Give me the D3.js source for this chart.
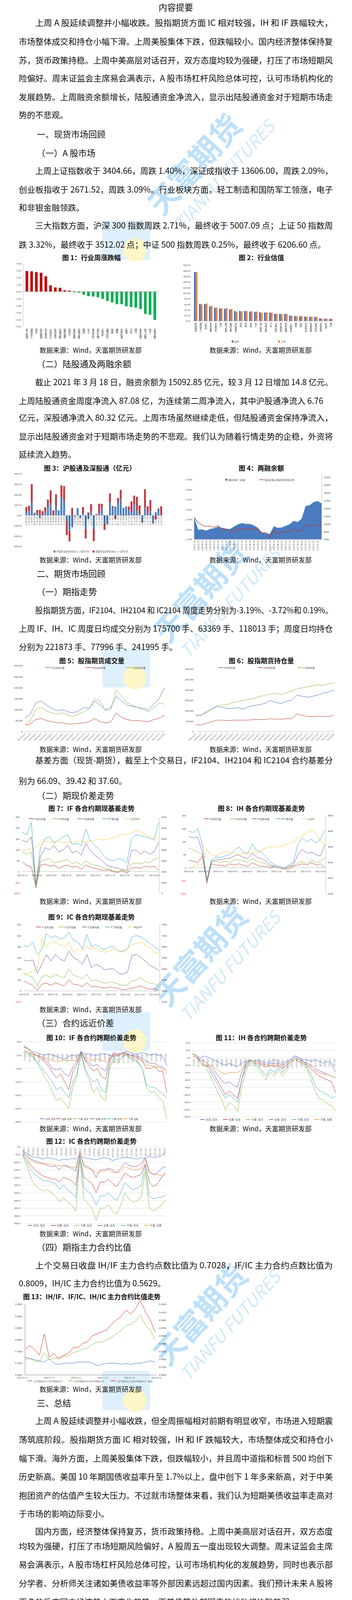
<!DOCTYPE html>
<html><head><meta charset="utf-8">
<script src="https://cdn.jsdelivr.net/npm/d3@7"></script>
<style>
html,body{margin:0;padding:0;background:#fff;width:901px;height:4950px;overflow:hidden;}
svg{display:block;font-family:"Noto Sans CJK SC","Noto Sans",sans-serif;}
</style></head>
<body>
<svg id="page" width="901" height="4950"></svg>
<script>
// ---------- data ----------
var c1Names = ['轻工制造','国防军工','综合','纺织服装','商业贸易','公用事业','休闲服务','交通运输','建筑装饰','房地产','家用电器','机械设备','钢铁','化工','食品饮料','医药生物','计算机','建筑材料','传媒','通信','农林牧渔','采掘','汽车','银行','有色金属','电气设备','电子','非银金融'];
var c1Vals = [2.95,2.9,2.8,2.7,2.2,0.9,0.6,0.55,0.2,0.15,-0.1,-0.15,-0.45,-0.65,-0.7,-0.8,-1.05,-1.35,-1.55,-1.8,-1.8,-2.1,-2.2,-2.3,-2.5,-3.2,-3.3,-4.05];

var c2Names = ['休闲服务','国防军工','计算机','有色金属','食品饮料','电子','电气设备','医药生物','纺织服装','综合','传媒','通信','化工','轻工制造','机械设备','汽车','交通运输','商业贸易','家用电器','公用事业','钢铁','采掘','农林牧渔','非银金融','建筑材料','建筑装饰','房地产','银行'];
var c2This = [176,62,61,53,48,45,44,42,36,36,36,34,33,32,31,30,26,26,26,20,18,17,16,15,15,10,8.5,8];
var c2Last = [175,60,63,55,48,46,46,43,34,35,36,35,34,30,31,31,26,25,26,19,18,18,16,16,15,9,8.5,8];

var c3Dates = ['2020-04-03','2020-04-10','2020-04-17','2020-04-24','2020-05-01','2020-05-08','2020-05-15','2020-05-22','2020-05-29','2020-06-05','2020-06-12','2020-06-19','2020-06-26','2020-07-03','2020-07-10','2020-07-17','2020-07-24','2020-07-31','2020-08-07','2020-08-14','2020-08-21','2020-08-28','2020-09-04','2020-09-11','2020-09-18','2020-09-25','2020-10-09','2020-10-16','2020-10-23','2020-10-30','2020-11-06','2020-11-13','2020-11-20','2020-11-27','2020-12-04','2020-12-11','2020-12-18','2020-12-25','2021-01-01','2021-01-08','2021-01-15','2021-01-22','2021-01-29','2021-02-05','2021-02-12','2021-02-19','2021-02-26','2021-03-05','2021-03-12','2021-03-19','2021-03-19'];
var c3Sh = [35,42,125,20,20,-25,0,28,80,118,0,90,48,177,135,-50,-155,-115,-12,70,-25,18,-135,-35,35,-130,3,20,72,-80,-80,125,75,85,115,165,72,80,48,27,105,45,10,-55,75,15,45,-75,30,62,5];
var c3Sz = [45,50,175,5,30,52,40,50,72,122,48,112,0,111,147,-140,-95,72,0,0,0,62,-87,28,73,-118,8,92,38,-60,-5,87,15,-35,53,80,-5,5,37,108,85,135,85,-15,177,72,102,-3,-40,5,82];

var c4Dates = ['2015-12-18','2016-02-18','2016-04-18','2016-06-18','2016-08-18','2016-10-18','2016-12-18','2017-02-18','2017-04-18','2017-06-18','2017-08-18','2017-10-18','2017-12-18','2018-02-18','2018-04-18','2018-06-18','2018-08-18','2018-10-18','2018-12-18','2019-02-18','2019-04-18','2019-06-18','2019-08-18','2019-10-18','2019-12-18','2020-02-18','2020-04-18','2020-06-18','2020-08-18','2020-10-18','2020-12-18','2021-02-18','2021-03-18'];
var c4Bal = [11800,8500,8600,8300,8700,8900,9300,9000,8800,8700,9300,9900,10200,10000,10000,9600,9000,7800,7600,7400,9400,9000,9100,9500,9900,10800,10500,11300,14600,14800,15600,15900,15300];
var c4Ratio = [2.80,2.55,2.42,2.35,2.38,2.30,2.40,2.18,2.22,2.10,2.15,2.20,2.25,2.20,2.22,2.25,2.18,2.02,2.05,1.80,2.15,2.00,2.05,2.08,2.08,2.22,2.10,2.12,2.40,2.42,2.40,2.40,2.48];

var monthTicks = ['2019-01-07','2019-02-07','2019-03-07','2019-04-07','2019-05-07','2019-06-07','2019-07-07','2019-08-07','2019-09-07','2019-10-07','2019-11-07','2019-12-07','2020-01-07','2020-02-07','2020-03-07','2020-04-07','2020-05-07','2020-06-07','2020-07-07','2020-08-07','2020-09-07','2020-10-07','2020-11-07','2020-12-07','2021-01-07','2021-02-07','2021-03-07'];
var volIF = [60,80,130,140,120,105,95,100,90,85,95,110,105,140,120,100,110,160,140,120,115,110,105,100,125,150,200];
var volIH = [30,35,55,60,50,45,40,40,35,35,38,40,45,60,45,40,45,85,65,55,50,50,48,45,55,60,75];
var volIC = [35,50,100,110,95,85,80,85,75,70,80,90,105,150,140,95,100,190,160,130,120,110,100,90,110,130,125];
var oiIF = [80,78,95,110,120,118,110,112,115,108,120,125,130,135,150,140,135,145,150,175,170,165,170,175,185,190,200];
var oiIH = [32,33,40,48,55,55,53,55,55,55,56,58,58,58,62,60,60,62,62,85,78,72,72,75,72,72,78];
var oiIC = [75,80,90,105,125,128,130,140,145,150,155,160,168,175,180,185,178,185,195,205,210,215,220,225,222,230,235];

var basisTicks = ['2020-05-29','2020-06-29','2020-07-29','2020-08-29','2020-09-29','2020-10-29','2020-11-29','2020-12-29','2021-01-29','2021-02-28'];
var ifB1 = [45,28,22,-75,30,35,25,30,15,25,30,20,25,10,30,20,15,10,5,8,0,-5,5,-10,15,20,15,25,20,25,5];
var ifB2 = [90,80,90,-70,45,55,60,40,45,50,55,35,45,30,50,35,30,25,15,10,5,0,10,-5,35,40,35,45,40,55,65];
var ifB3 = [145,135,160,-60,70,110,100,120,90,100,120,85,95,75,130,95,75,60,40,25,20,15,10,5,95,100,80,95,80,90,135];
var ifB4 = [180,170,225,-55,110,150,160,130,145,160,170,125,130,120,195,140,120,100,70,55,50,60,55,40,150,170,165,160,155,145,225];
var hs300 = [3900,4000,4100,4200,4700,4750,4700,4750,4800,4650,4700,4700,4800,4750,4700,4800,4900,4950,4900,5000,5100,5300,5400,5400,5500,5800,5700,5400,5200,5100,5050];
var ihB1 = [28,25,20,45,-60,15,10,10,5,15,10,15,10,5,20,10,5,5,0,5,0,-5,-5,5,10,15,10,20,10,15,0];
var ihB2 = [75,68,60,50,-55,20,25,20,25,20,30,30,25,20,35,25,20,15,5,5,0,-5,5,5,20,25,15,30,20,25,38];
var ihB3 = [120,115,118,60,-50,25,30,30,35,35,45,50,40,35,55,40,35,25,10,5,0,-5,5,10,50,70,55,60,50,45,90];
var ihB4 = [140,135,150,90,-45,30,40,40,45,50,65,80,60,55,90,65,60,40,20,10,5,0,10,20,90,115,100,110,95,110,145];
var sz50 = [2800,2880,2920,2950,3400,3250,3200,3300,3350,3300,3300,3250,3300,3250,3350,3300,3400,3450,3500,3500,3500,3550,3600,3650,3800,3850,3950,4050,3950,3650,3600];
var icB1 = [90,70,50,5,60,70,50,75,60,45,100,60,55,40,75,35,45,30,25,35,30,20,10,15,25,35,45,25,15,20,5];
var icB2 = [160,140,120,40,130,140,120,150,130,120,200,140,130,110,150,90,100,80,70,80,75,60,50,55,90,100,120,85,70,65,40];
var icB3 = [280,270,280,160,240,330,270,330,290,270,360,300,280,240,330,210,240,220,190,200,200,160,150,170,320,330,300,270,230,210,185];
var icB4 = [410,400,440,330,370,520,480,500,470,480,530,460,440,380,510,400,420,390,370,400,400,360,360,380,490,500,490,460,430,400,370];
var zz500 = [5250,5300,5400,5500,6900,6500,6700,6700,6600,6500,6700,6250,6400,6350,6500,6400,6450,6300,6250,6300,6400,6300,6250,6400,6600,6650,6700,6550,6500,6200,6250];

var spreadTicks = ['2020/1/2','2020/1/16','2020/2/6','2020/2/20','2020/3/5','2020/3/19','2020/4/2','2020/4/17','2020/5/6','2020/5/20','2020/6/3','2020/6/17','2020/7/3','2020/7/17','2020/7/31','2020/8/14','2020/8/28','2020/9/11','2020/9/25','2020/10/16','2020/10/30','2020/11/13','2020/11/27','2020/12/11','2020/12/25','2021/1/11','2021/1/25','2021/2/8','2021/2/25','2021/3/11','2021/3/17'];
var spreadNames = ['次月-当月','当季-当月','下季-当月','当季-次月','下季-次月','下季-当季'];
var spreadColors = ['#4472c4','#c0392b','#8fb53b','#7e4fa8','#3aa6c8','#f0882a'];
var ifS = [
 [20,15,5,0,-5,-10,-5,-10,-15,-20,-25,-15,-10,-15,0,-5,-5,-10,-10,-5,-5,-10,-15,-10,-5,5,0,-5,-5,0,-5,-10,-5,-10,-15,-50],
 [25,15,0,-10,-20,-35,-50,-75,-95,-80,-110,-140,-70,-45,5,-30,-50,-70,-60,-90,-100,-35,-5,-10,-5,0,-10,-15,-20,-30,-60,-60,-50,-70,-70,-150],
 [20,10,-10,-30,-60,-90,-110,-150,-180,-170,-190,-210,-130,-90,0,-70,-100,-150,-130,-170,-180,-60,-30,-40,-20,-5,-25,-30,-40,-60,-130,-150,-145,-170,-180,-250],
 [5,0,-5,-10,-15,-25,-40,-60,-65,-60,-80,-90,-55,-35,5,-25,-40,-50,-45,-60,-70,-25,0,-5,0,-5,-10,-10,-15,-20,-35,-40,-40,-50,-55,-70],
 [0,-5,-15,-30,-50,-70,-90,-110,-140,-130,-150,-170,-110,-80,0,-60,-90,-110,-100,-140,-150,-50,-20,-30,-15,-10,-20,-25,-35,-60,-120,-130,-130,-145,-155,-170],
 [10,0,-5,-10,-15,-20,-25,-30,-35,-30,-30,-30,-30,-30,-5,-20,-25,-30,-25,-30,-35,-20,-10,-15,-5,-10,-15,-20,-25,-30,-45,-50,-55,-55,-60,-80]];
var ihS = [
 [10,5,0,5,0,-5,-10,-15,-20,-15,-20,-25,-15,-10,-5,-10,-5,-10,-15,-10,-5,-10,-15,-10,-5,5,0,-5,-5,-10,-5,-10,-15,-10,-15,-40],
 [10,5,-10,-20,-25,-40,-60,-80,-100,-90,-100,-110,-60,-20,-5,-15,-15,-20,-25,-20,-25,-20,-30,-20,-10,0,-5,-10,-20,-30,-40,-50,-55,-60,-65,-95],
 [12,5,-15,-25,-40,-65,-90,-110,-140,-120,-130,-145,-80,-40,-10,-20,-25,-45,-60,-40,-50,-30,-50,-35,-15,-5,-10,-20,-30,-60,-90,-110,-115,-125,-130,-145],
 [5,0,-5,-10,-20,-30,-45,-60,-70,-65,-75,-80,-40,-15,-5,-10,-10,-15,-20,-15,-15,-15,-20,-15,-5,5,0,-10,-15,-20,-30,-35,-40,-45,-50,-55],
 [5,0,-10,-20,-30,-50,-70,-90,-110,-100,-110,-120,-60,-30,-5,-15,-20,-35,-50,-30,-40,-25,-40,-25,-10,0,-10,-15,-25,-45,-75,-90,-95,-100,-110,-105],
 [5,0,-10,-20,-20,-25,-30,-40,-45,-40,-40,-40,-30,-20,-5,-10,-10,-20,-25,-20,-20,-20,-25,-20,-10,-5,-10,-15,-20,-25,-35,-40,-45,-45,-50,-55]];
var icS = [
 [-30,-40,-60,-70,-70,-80,-70,-75,-80,-90,-80,-85,-75,-80,-60,-70,-75,-80,-85,-75,-70,-75,-90,-80,-75,-70,-70,-75,-80,-70,-75,-60,-70,-65,-60,-30],
 [-50,-80,-120,-150,-170,-190,-200,-210,-210,-230,-200,-210,-220,-250,-60,-200,-220,-240,-300,-230,-230,-210,-240,-260,-220,-170,-190,-200,-190,-180,-110,-230,-260,-240,-200,-165],
 [-60,-120,-200,-250,-270,-290,-280,-300,-320,-360,-330,-360,-380,-420,-80,-340,-370,-400,-480,-400,-400,-380,-420,-440,-380,-300,-340,-360,-350,-330,-160,-400,-420,-400,-380,-345],
 [-40,-60,-80,-90,-100,-110,-120,-130,-125,-150,-120,-130,-140,-160,-30,-120,-130,-150,-200,-150,-150,-140,-150,-170,-140,-100,-120,-130,-125,-110,-70,-160,-180,-170,-140,-130],
 [-50,-100,-150,-180,-200,-220,-220,-230,-240,-280,-250,-280,-300,-330,-50,-270,-290,-320,-380,-320,-320,-300,-330,-350,-300,-230,-260,-280,-270,-250,-120,-320,-340,-330,-330,-315],
 [-20,-60,-90,-100,-110,-110,-110,-115,-120,-125,-120,-125,-130,-140,-30,-130,-140,-150,-170,-160,-160,-150,-165,-170,-160,-130,-140,-150,-150,-140,-80,-170,-180,-180,-190,-180]];

var ratioTicks = ['2020-05-15','2020-07-15','2020-09-15','2020-11-15','2021-01-15','2021-03-15'];
var ihIf = [0.725,0.72,0.715,0.71,0.705,0.72,0.70,0.695,0.70,0.70,0.70,0.705,0.705,0.705,0.70,0.69,0.695,0.70,0.70,0.70,0.695,0.70,0.695,0.70,0.70,0.705,0.71,0.705];
var ifIc = [0.715,0.72,0.71,0.705,0.745,0.715,0.72,0.725,0.73,0.73,0.745,0.75,0.76,0.765,0.78,0.79,0.79,0.80,0.81,0.825,0.84,0.86,0.865,0.88,0.905,0.86,0.84,0.80];
var ihIc = [0.515,0.525,0.515,0.50,0.555,0.495,0.505,0.49,0.50,0.505,0.52,0.52,0.53,0.535,0.55,0.555,0.56,0.565,0.58,0.59,0.60,0.615,0.605,0.62,0.64,0.61,0.59,0.56];

// text lines: [y, text, indent, justify]
var bodyLines = [
 [57,'上周 A 股延续调整并小幅收跌。股指期货方面 IC 相对较强，IH 和 IF 跌幅较大，',1,1],
 [105,'市场整体成交和持仓小幅下滑。上周美股集体下跌，但跌幅较小。国内经济整体保持复',0,1],
 [153,'苏，货币政策持稳。上周中美高层对话召开，双方态度均较为强硬，打压了市场短期风',0,1],
 [199,'险偏好。周末证监会主席易会满表示，A 股市场杠杆风险总体可控，认可市场机构化的',0,1],
 [247,'发展趋势。上周融资余额增长，陆股通资金净流入，显示出陆股通资金对于短期市场走',0,1],
 [293,'势的不悲观。',0,0],
 [436,'上周上证指数收于 3404.66，周跌 1.40%，深证成指收于 13606.00，周跌 2.09%，',1,1],
 [484,'创业板指收于 2671.52，周跌 3.09%。行业板块方面，轻工制造和国防军工领涨，电子',0,1],
 [530,'和非银金融领跌。',0,0],
 [576,'三大指数方面，沪深 300 指数周跌 2.71%，最终收于 5007.09 点；上证 50 指数周',1,1],
 [625,'跌 3.32%，最终收于 3512.02 点；中证 500 指数周跌 0.25%，最终收于 6206.60 点。',0,2],
 [977,'截止 2021 年 3 月 18 日，融资余额为 15092.85 亿元，较 3 月 12 日增加 14.8 亿元。',1,1],
 [1025,'上周陆股通资金周度净流入 87.08 亿，为连续第二周净流入，其中沪股通净流入 6.76',0,2],
 [1068,'亿元，深股通净流入 80.32 亿元。上周市场虽然继续走低，但陆股通资金保持净流入，',0,1],
 [1116,'显示出陆股通资金对于短期市场走势的不悲观。我们认为随着行情走势的企稳，外资将',0,1],
 [1162,'延续流入趋势。',0,0],
 [1561,'股指期货方面，IF2104、IH2104 和 IC2104 周度走势分别为-3.19%、-3.72%和 0.19%。',1,1],
 [1608,'上周 IF、IH、IC 周度日均成交分别为 175700 手、63369 手、118013 手；周度日均持仓',0,1],
 [1655,'分别为 221873 手、77996 手、241995 手。',0,0],
 [1945,'基差方面（现货-期货），截至上个交易日，IF2104、IH2104 和 IC2104 合约基差分',1,1],
 [1998,'别为 66.09、39.42 和 37.60。',0,0],
 [3238,'上个交易日收盘 IH/IF 主力合约点数比值为 0.7028，IF/IC 主力合约点数比值为',1,1],
 [3284,'0.8009，IH/IC 主力合约比值为 0.5629。',0,0],
 [3636,'上周 A 股延续调整并小幅收跌，但全周振幅相对前期有明显收窄，市场进入短期震',1,1],
 [3684,'荡筑底阶段。股指期货方面 IC 相对较强，IH 和 IF 跌幅较大，市场整体成交和持仓小',0,1],
 [3732,'幅下滑。海外方面，上周美股集体下跌，但跌幅较小，并且周中道指和标普 500 均创下',0,1],
 [3779,'历史新高。美国 10 年期国债收益率升至 1.7%以上，盘中创下 1 年多来新高，对于中美',0,1],
 [3827,'抱团资产的估值产生较大压力。不过就市场整体来看，我们认为短期美债收益率走高对',0,1],
 [3874,'于市场的影响边际变小。',0,0],
 [3919,'国内方面，经济整体保持复苏，货币政策持稳。上周中美高层对话召开，双方态度',1,1],
 [3957,'均较为强硬，打压了市场短期风险偏好，A 股周五一度出现较大调整。周末证监会主席',0,1],
 [4004,'易会满表示，A 股市场杠杆风险总体可控，认可市场机构化的发展趋势，同时也表示部',0,1],
 [4052,'分学者、分析师关注诸如美债收益率等外部因素远超过国内因素。我们预计未来 A 股将',0,1],
 [4100,'更多的反应国内经济基本面变化趋势，而美债等外部因素的扰动将边际趋弱。',0,2],
 [4148,'资金方面，上周融资余额增长，陆股通资金净流入。上周陆股通资金周度净流入',1,1],
 [4193,'87.08 亿，为连续第二周净流入，其中沪股通净流入 6.76 亿元，深股通净流入 80.32',0,1],
 [4239,'亿元。上周市场虽然继续走低，但陆股通资金保持净流入趋势，显示出陆股通资金对于',0,1],
 [4286,'短期市场走势的不悲观。随着行情走势的企稳，外资将延续流入趋势。',0,2],
 [4334,'整体来看，目前美债收益率继续走高，但除了抱团相对集中的纳指外，道指和标普',1,1],
 [4382,'500 均一度创下历史新高，显示美债影响的边际趋弱。另一方面虽然中美会谈出现波折，',0,1],
 [4429,'但由于市场此前对于此次会谈的评估也偏向中性，所以预计会谈结果对于市场的影响也',0,1],
 [4476,'偏于短期。目前指数位置为阶段底部区域，虽然仍有反复震荡筑底的可能，但向下的空',0,1],
 [4524,'间有限。建议投资者以区间操作为主，股指前多谨慎持有，仅供参考。',0,2]
];
var headings = [
 [342,'一、现货市场回顾'],[390,'（一）A 股市场'],[930,'（二）陆股通及两融余额'],[1467,'二、期货市场回顾'],
 [1513,'（一）期指走势'],[2035,'（二）期现价差走势'],[2617,'（三）合约远近价差'],[3191,'（四）期指主力合约比值'],[3590,'三、总结']
];
var figTitles = [
 [658,234,'图 1：行业周涨跌幅'],[658,669,'图 2：行业估值'],[1197,230,'图 3：沪股通及深股通（亿元）'],[1197,669,'图 4：两融余额'],
 [1690,235,'图 5：股指期货成交量'],[1690,669,'图 6：股指期货持仓量'],[2068,234,'图 7：IF 各合约期现基差走势'],[2068,669,'图 8：IH 各合约期现基差走势'],
 [2346,234,'图 9：IC 各合约期现基差走势'],[2655,234,'图 10：IF 各合约跨期价差走势'],[2655,669,'图 11：IH 各合约跨期价差走势'],
 [2920,234,'图 12：IC 各合约跨期价差走势'],[3318,235,'图 13：IH/IF、IF/IC、IH/IC 主力合约比值走势']
];
var sources = [[895,232],[895,667],[1432,232],[1432,667],[1917,232],[1917,667],[2306,232],[2306,667],[2583,232],[2888,232],[2888,667],[3157,232],[3555,232]];
var disclaimer = [
 [4606,'本报告的信息均来源于公开资料，我公司对这些信息的准确性和完整性不作任何保证，也不保证',1,1],
 [4630,'所包含的信息和建议不会发生任何变更。文中的观点、结论和建议仅供参考。天富期货可发出其它与',0,1],
 [4653,'本报告所载资料不一致及有不同结论的报告。本报告及该等报告反映编写分析员的不同设想、见解及',0,1],
 [4677,'分析方法。报告所载资料、意见及推测仅反映分析员于发出此报告日期当日的独立判断。',0,0],
 [4700,'客户不应视本报告为作出投资决策的惟一因素。本报告中所指的投资及服务可能不适合个别客户，',1,1],
 [4724,'不构成客户私人咨询建议。本公司未确保本报告充分考虑到个别客户特殊的投资目标、财务状况或需',0,1],
 [4747,'要。本公司建议客户应考虑本报告的任何意见或建议是否符合其特定状况，以及（若有必要）咨询独',0,1],
 [4771,'立投资顾问。',0,0],
 [4795,'在任何情况下，本报告中的信息或所表述的意见并不构成对任何人的投资建议。在任何情况下，',1,1],
 [4818,'本公司不对任何人因使用本报告中的任何内容所引致的损失负任何责任。',0,0],
 [4842,'本报告的观点可能与资管团队的观点不同或对立，对于基于本报告全面或部分做出的交易、结果，',1,1],
 [4865,'不论盈利或亏损，天富期货研究发展部不承担责任。',0,0],
 [4889,'本报告版权仅为天富期货有限公司所有，未经书面许可，任何机构和个人不得以任何形式翻版、',1,1],
 [4912,'复制和发布。如引用、刊发，需注明出处天富期货研究发展部，且不得对本报告进行有悖原意的引用、',0,1],
 [4935,'删节和修改。',0,0]
];

// ---------- page ----------
var svg = d3.select('#page');
var bg = svg.append('g'), fg = svg.append('g');

// watermark
[[520,440],[535,1535],[535,2465],[535,3385],[535,4390]].forEach(function(p) {
  bg.append('rect').attr('x',262).attr('y',p[1]+125).attr('width',122).attr('height',100).attr('rx',6)
    .attr('fill','#d6ecfb').attr('opacity',0.8);
  bg.append('circle').attr('cx',345).attr('cy',p[1]+200).attr('r',30).attr('fill','#fdf6c8');
  var g = bg.append('g').attr('transform','translate('+p[0]+','+p[1]+') rotate(-48)');
  g.append('text').attr('text-anchor','middle').attr('font-size',78).attr('font-weight','bold')
    .attr('fill','#a9d6f7').attr('opacity',0.75).text('天富期货');
  g.append('text').attr('text-anchor','middle').attr('y',62).attr('x',30).attr('font-size',44)
    .attr('font-style','italic').attr('fill','#c6e4f9').attr('opacity',0.8).text('TIANFU FUTURES');
});

function txt(x, y, s, size, o) {
  o = o || {};
  var t = fg.append('text').attr('x',x).attr('y',y).attr('font-size',size)
    .attr('dominant-baseline','central').attr('fill',o.fill || '#111')
    .attr('text-anchor',o.anchor || 'start').text(s);
  if (o.weight) t.attr('font-weight',o.weight);
  if (o.len) t.attr('textLength',o.len).attr('lengthAdjust','spacingAndGlyphs');
  return t;
}

txt(450, 17, '内容提要', 22, {anchor:'middle'});
bodyLines.forEach(function(l) {
  var x = l[2] ? 90 : 48;
  var o = {};
  if (l[3] === 1) o.len = 852 - x;
  txt(x, l[0], l[1], 21, o);
});
headings.forEach(function(h) { txt(94, h[0], h[1], 22); });
figTitles.forEach(function(f) { txt(f[1], f[0], f[2], 17, {anchor:'middle', weight:'bold'}); });
sources.forEach(function(s) { txt(s[1], s[0], '数据来源：Wind，天富期货研发部', 17, {anchor:'middle'}); });
txt(92, 4569, '免责声明', 16, {weight:'bold'});
disclaimer.forEach(function(l) {
  var x = l[2] ? 86 : 48, o = {fill:'#555'};
  if (l[3]) o.len = 852 - x;
  txt(x, l[0], l[1], 14.5, o);
});

// ---------- chart helpers ----------
function styleAxis(a, size, color) {
  a.select('.domain').remove();
  a.selectAll('line').remove();
  a.selectAll('text').attr('font-size',size || 6).attr('fill',color || '#444');
}
function yAxis(g, scale, x, ticks, fmt, side) {
  var ax = side === 'right' ? d3.axisRight(scale) : d3.axisLeft(scale);
  var a = g.append('g').attr('transform','translate('+x+',0)')
    .call(ax.tickValues(ticks).tickFormat(fmt).tickSize(0).tickPadding(3));
  styleAxis(a);
  a.selectAll('text').attr('fill', function(d) { return d < 0 && fmt(d).indexOf('(') === 0 ? '#e03030' : '#444'; });
  return a;
}
function legend(g, y, items) {
  items.forEach(function(it) {
    if (it.box) {
      g.append('rect').attr('x',it.x).attr('y',y-2.5).attr('width',5).attr('height',5).attr('fill',it.color);
    } else {
      g.append('line').attr('x1',it.x).attr('x2',it.x+12).attr('y1',y).attr('y2',y)
        .attr('stroke',it.color).attr('stroke-width',1.5).attr('stroke-dasharray',it.dash ? '3,2' : null);
    }
    g.append('text').attr('x',it.x+(it.box?7:14)).attr('y',y).attr('dominant-baseline','central')
      .attr('font-size',it.size || 6).attr('fill','#555').text(it.label);
  });
}
function drawLine(g, data, x0, x1, y, color, dash, w) {
  var x = d3.scaleLinear().domain([0, data.length - 1]).range([x0, x1]);
  g.append('path').datum(data).attr('fill','none').attr('stroke',color).attr('stroke-width',w || 1)
    .attr('stroke-dasharray',dash ? '3,2' : null)
    .attr('d', d3.line().x(function(d, i) { return x(i); }).y(function(d) { return y(d); }));
}
function xLabels(g, labels, x0, x1, y, o) {
  o = o || {};
  var s = d3.scalePoint().domain(labels).range([x0, x1]);
  labels.forEach(function(l) {
    var t = g.append('text').attr('font-size',o.size || 5.5).attr('fill','#444').text(l);
    if (o.rot) {
      t.attr('transform','translate('+s(l)+','+y+') rotate('+o.rot+')')
        .attr('text-anchor', o.rot < 0 ? 'end' : 'start').attr('dominant-baseline','central');
    } else {
      t.attr('x',s(l)).attr('y',y).attr('text-anchor','middle').attr('dominant-baseline','central');
    }
  });
}
var paren = function(d) { return d < 0 ? '(' + (-d) + ')' : d; };
var g = fg.append('g');

// chart 1
(function() {
  var y = d3.scaleLinear().domain([-5, 4]).range([836, 675]);
  var x = d3.scaleBand().domain(c1Names).range([60, 405]).padding(0.45);
  yAxis(g, y, 57, d3.range(-5, 4.01, 1), d3.format('.2f'));
  g.append('line').attr('x1',59).attr('x2',59).attr('y1',675).attr('y2',836).attr('stroke','#bbb');
  g.selectAll(null).data(c1Vals).enter().append('rect')
    .attr('x', function(d, i) { return x(c1Names[i]); }).attr('width', x.bandwidth())
    .attr('y', function(d) { return y(Math.max(0, d)); })
    .attr('height', function(d) { return Math.abs(y(d) - y(0)); })
    .attr('fill', function(d) { return d >= 0 ? '#c00000' : '#00b050'; });
  g.append('line').attr('x1',59).attr('x2',406).attr('y1',y(0)).attr('y2',y(0)).attr('stroke','#999');
  c1Names.forEach(function(n) {
    g.append('text').attr('x',x(n)+x.bandwidth()/2).attr('y',841).attr('font-size',6.5).attr('fill','#444')
      .style('writing-mode','vertical-rl').text(n);
  });
})();

// chart 2
(function() {
  var y = d3.scaleLinear().domain([0, 200]).range([822, 679]);
  var x = d3.scaleBand().domain(c2Names).range([493, 855]).padding(0.25);
  var xi = d3.scaleBand().domain([0, 1]).range([0, x.bandwidth()]).padding(0.08);
  yAxis(g, y, 490, d3.range(0, 201, 20), d3.format('.2f'));
  [c2This, c2Last].forEach(function(arr, k) {
    g.selectAll(null).data(arr).enter().append('rect')
      .attr('x', function(d, i) { return x(c2Names[i]) + xi(k); }).attr('width', xi.bandwidth())
      .attr('y', function(d) { return y(d); }).attr('height', function(d) { return y(0) - y(d); })
      .attr('fill', k ? '#ed7d31' : '#4472c4');
  });
  g.append('line').attr('x1',493).attr('x2',855).attr('y1',822).attr('y2',822).attr('stroke','#bbb');
  c2Names.forEach(function(n) {
    g.append('text').attr('x',x(n)+x.bandwidth()/2).attr('y',826).attr('font-size',6).attr('fill','#444')
      .style('writing-mode','vertical-rl').text(n);
  });
  legend(g, 874, [{x:593,label:'本周',color:'#4472c4',box:1},{x:712,label:'上周',color:'#ed7d31',box:1}]);
})();

// chart 3
(function() {
  var y = d3.scaleLinear().domain([-300, 400]).range([1399, 1213]);
  var idx = d3.range(c3Sh.length);
  var x = d3.scaleBand().domain(idx).range([63, 417]).padding(0.3);
  yAxis(g, y, 58, d3.range(-300, 401, 100), d3.format('.2f'));
  idx.forEach(function(i) {
    var a = c3Sh[i], b = c3Sz[i];
    var pos = 0, neg = 0;
    [[a,'#4a7fc1'],[b,'#c0393b']].forEach(function(p) {
      var v = p[0], base = v >= 0 ? pos : neg, top = base + v;
      g.append('rect').attr('x',x(i)).attr('width',x.bandwidth())
        .attr('y',y(Math.max(base, top))).attr('height',Math.abs(y(top) - y(base))).attr('fill',p[1]);
      if (v >= 0) pos = top; else neg = top;
    });
  });
  g.append('line').attr('x1',63).attr('x2',417).attr('y1',y(0)).attr('y2',y(0)).attr('stroke','#999');
  c3Dates.slice(0, 51).forEach(function(d, i) {
    g.append('text').attr('font-size',4.5).attr('fill','#333')
      .attr('transform','translate('+(x(i)+x.bandwidth()/2)+','+(y(0)+2)+') rotate(90)')
      .attr('dominant-baseline','central').text(d);
  });
  legend(g, 1412, [{x:137,label:'沪股通:当日资金净流入(人民币):周',color:'#4a7fc1',box:1,size:5.5},
                   {x:237,label:'深股通:当日资金净流入(人民币):周',color:'#c0393b',box:1,size:5.5}]);
})();

// chart 4
(function() {
  var yl = d3.scaleLinear().domain([1.7, 4.7]).range([1381, 1228]);
  var yr = d3.scaleLinear().domain([6000, 22000]).range([1381, 1222]);
  var x = d3.scaleLinear().domain([0, c4Bal.length - 1]).range([497, 823]);
  g.append('path').datum(c4Bal).attr('fill','#4a7bbf')
    .attr('d', d3.area().x(function(d, i) { return x(i); }).y0(1381).y1(function(d) { return yr(d); }));
  drawLine(g, c4Ratio, 497, 823, yl, '#c0392b', false, 1.3);
  yAxis(g, yl, 495, d3.range(1.7, 4.71, 0.5), function(d) { return d.toFixed(2) + '%'; });
  yAxis(g, yr, 826, d3.range(6000, 22001, 2000), d3.format('d'), 'right');
  g.append('line').attr('x1',824).attr('x2',824).attr('y1',1213).attr('y2',1381).attr('stroke','#bbb');
  g.append('line').attr('x1',497).attr('x2',823).attr('y1',1381).attr('y2',1381).attr('stroke','#bbb');
  xLabels(g, c4Dates.slice(0, 32), 497, 812, 1384, {rot:-90, size:5});
  legend(g, 1228, [{x:577,label:'融资余额（右轴）',color:'#4a7bbf',box:1},{x:663,label:'融资余额占A股流通市值比例',color:'#c0392b'}]);
})();

// charts 5, 6
function volChart(x0, x1, yTop, series, labels, lx) {
  var y = d3.scaleLinear().domain([0, 300]).range([1873, yTop]);
  yAxis(g, y, x0 - 3, d3.range(0, 301, 50), function(d) { return d ? d3.format(',')(d * 1000) : '0'; });
  g.append('line').attr('x1',x0).attr('x2',x1).attr('y1',1873).attr('y2',1873).attr('stroke','#bbb');
  var cols = ['#4472c4','#c0392b','#8fb53b'];
  series.forEach(function(s, k) { drawLine(g, s, x0, x1, y, cols[k]); });
  xLabels(g, monthTicks, x0, x1, 1877, {rot:-45, size:5});
  legend(g, 1709, labels.map(function(l, k) { return {x:lx[k], label:l, color:cols[k]}; }));
}
volChart(64, 421, 1704, [volIF, volIH, volIC], ['IF日总成交量','IH日总成交量','IC日总成交量'], [116,220,323]);
volChart(501, 855, 1713, [oiIF, oiIH, oiIC], ['IF总持仓量','IH总持仓量','IC总持仓量'], [559,660,762]);

// charts 7-9
function basisChart(o) {
  var yl = d3.scaleLinear().domain(o.ld).range([o.yb, o.yt]);
  var yr = d3.scaleLinear().domain(o.rd).range([o.yb, o.yt]);
  yAxis(g, yl, o.x0 - 4, o.lt, paren);
  yAxis(g, yr, o.x1 + 4, o.rt, d3.format('d'), 'right');
  g.append('line').attr('x1',o.x1+2).attr('x2',o.x1+2).attr('y1',o.yt).attr('y2',o.yb).attr('stroke','#bbb');
  g.append('line').attr('x1',o.x0).attr('x2',o.x1).attr('y1',yl(0)).attr('y2',yl(0)).attr('stroke','#bbb');
  var cols = ['#c0392b','#8fb53b','#7e4fa8','#3aa6c8'];
  o.s.forEach(function(s, k) { drawLine(g, s, o.x0, o.x1, yl, cols[k]); });
  drawLine(g, o.idx, o.x0, o.x1, yr, '#f5b800', true, 1.2);
  xLabels(g, basisTicks, o.x0, o.x1 - 12, yl(0) + 9, {size:5});
  legend(g, o.ly, o.names.map(function(n, k) {
    return {x:o.lx[k], label:n, color:k < 4 ? cols[k] : '#f5b800', dash:k === 4};
  }));
}
basisChart({x0:57,x1:406,yt:2092,yb:2287,ld:[-100,250],rd:[0,7000],lt:d3.range(-100,251,50),rt:d3.range(0,7001,1000),
  s:[ifB1,ifB2,ifB3,ifB4],idx:hs300,names:['IF当月基差','IF次月基差','IF当季基差','IF下季基差','沪深300'],lx:[74,134,198,261,321],ly:2096});
basisChart({x0:483,x1:832,yt:2088,yb:2288,ld:[-100,200],rd:[2000,4500],lt:d3.range(-100,201,50),rt:d3.range(2000,4501,500),
  s:[ihB1,ihB2,ihB3,ihB4],idx:sz50,names:['IH当月基差','IH次月基差','IH当季基差','IH下季基差','上证50'],lx:[522,588,645,706,772],ly:2096});
basisChart({x0:61,x1:407,yt:2367,yb:2565,ld:[-100,600],rd:[4000,7500],lt:d3.range(-100,601,100),rt:d3.range(4000,7501,500),
  s:[icB1,icB2,icB3,icB4],idx:zz500,names:['IC当月基差','IC次月基差','IC当季基差','IC下季基差','中证500'],lx:[93,151,210,269,328],ly:2373});

// charts 10-12
function spreadChart(o) {
  var y = d3.scaleLinear().domain(o.d).range([o.yb, o.yt]);
  o.t.forEach(function(t) {
    g.append('line').attr('x1',o.x0).attr('x2',o.x1).attr('y1',y(t)).attr('y2',y(t)).attr('stroke','#e2e2e2');
  });
  yAxis(g, y, o.x0 - 3, o.t, d3.format('.1f'));
  xLabels(g, spreadTicks, o.x0 + 3, o.x1 - 3, y(0) + 3, {rot:90, size:4.5});
  o.s.forEach(function(s, k) { drawLine(g, s, o.x0, o.x1, y, spreadColors[k]); });
  legend(g, o.ly, spreadNames.map(function(n, k) { return {x:o.lx[k], label:n, color:spreadColors[k], size:o.ls}; }));
}
spreadChart({x0:61,x1:427,yt:2667,yb:2872,d:[-260,40],t:d3.range(-260,41,50),s:ifS,ly:2864,lx:[102,144,186,230,272,314],ls:6});
spreadChart({x0:493,x1:859,yt:2670,yb:2859,d:[-160,40],t:d3.range(-160,41,20),s:ihS,ly:2866,lx:[512,571,629,688,747,805],ls:7});
spreadChart({x0:58,x1:424,yt:2936,yb:3132,d:[-500,0],t:d3.range(-500,1,50),s:icS,ly:3137,lx:[71,131,191,250,310,369],ls:7});

// chart 13
(function() {
  var yl = d3.scaleLinear().domain([0.65, 0.95]).range([3520, 3339]);
  var yr = d3.scaleLinear().domain([0.45, 0.63]).range([3520, 3339]);
  yAxis(g, yl, 60, d3.range(0.65, 0.951, 0.05), d3.format('.4f'));
  yAxis(g, yr, 404, d3.range(0.45, 0.631, 0.02), d3.format('.4f'), 'right');
  g.append('line').attr('x1',64).attr('x2',64).attr('y1',3339).attr('y2',3520).attr('stroke','#888');
  g.append('line').attr('x1',64).attr('x2',401).attr('y1',3520).attr('y2',3520).attr('stroke','#888');
  drawLine(g, ihIf, 64, 397, yl, '#4472c4');
  drawLine(g, ifIc, 64, 397, yl, '#8fb53b');
  drawLine(g, ihIc, 64, 397, yr, '#d62728');
  xLabels(g, ratioTicks, 57, 400, 3526, {size:5});
  legend(g, 3535, [{x:70,label:'上证50期指主力/沪深300期指主力',color:'#4472c4',size:5},
                   {x:174,label:'沪深300期指主力/中证500期指主力',color:'#8fb53b',size:5},
                   {x:284,label:'上证50期指主力/中证500期指主力（右轴）',color:'#d62728',size:5}]);
})();
</script>
</body></html>
